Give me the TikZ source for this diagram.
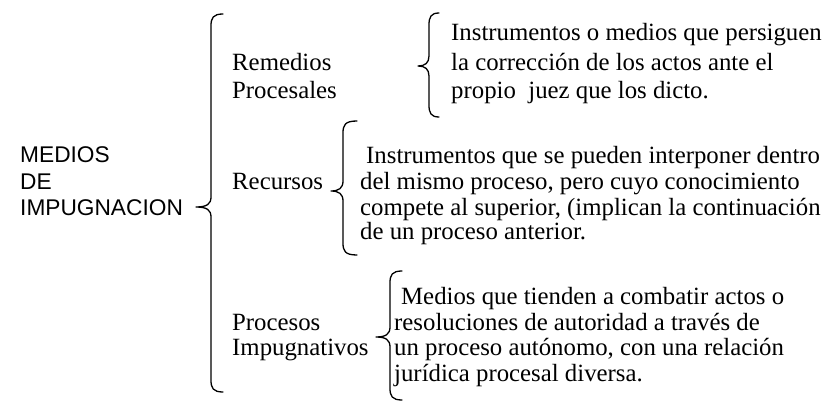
\documentclass[tikz,border=0pt]{standalone}
\usepackage{fontspec}
\setmainfont{Liberation Serif}
\newfontfamily\sansf{Liberation Sans}
\newcommand\lbrc[6]{% vx, top, bottom, tipx, tipy, hookx
  \draw[brc] (#6,#2) .. controls (#1+2,#2) and (#1,#2+4) .. (#1,#2+12)
    -- (#1,#5-10) .. controls (#1,#5-3) and (#1-4,#5) .. (#4,#5)
    .. controls (#1-4,#5) and (#1,#5+3) .. (#1,#5+10)
    -- (#1,#3-12) .. controls (#1,#3-4) and (#1+2,#3) .. (#6,#3);}
\begin{document}
\begin{tikzpicture}[x=1pt,y=-1pt,
  txt/.style={font=\fontsize{24.8}{28}\selectfont, inner sep=0, anchor=base west},
  stxt/.style={font=\sansf\fontsize{22.7}{26}\selectfont, inner sep=0, anchor=base west},
  brc/.style={line width=1.3pt, line cap=round, line join=round}]
\useasboundingbox[fill=white] (0,0) rectangle (831,401);
% root
\node[stxt] (m1) at (20,163) {MEDIOS};
\node[stxt] (m2) at (20,190) {DE};
\node[stxt] (m3) at (20,215) {IMPUGNACION};
% big brace
\lbrc{211}{14}{392}{196}{207}{223}
% branch labels
\node[txt] (r1) at (232,71) {Remedios};
\node[txt] (r2) at (232,99) {Procesales};
\node[txt] (c1) at (232,190) {Recursos};
\node[txt] (p1) at (232,330) {Procesos};
\node[txt] (p2) at (232,355) {Impugnativos};
% brace 1
\lbrc{429}{13}{117}{418}{66}{439}
\node[txt] (a1) at (451,41) {Instrumentos o medios que persiguen};
\node[txt] (a2) at (451,71) {la corrección de los actos ante el};
\node[txt] (a3) at (451,99) {propio\ \ juez que los dicto.};
% brace 2
\lbrc{343}{121}{255}{331}{191}{357}
\node[txt] (b1) at (366,164) {Instrumentos que se pueden interponer dentro};
\node[txt] (b2) at (360,190) {del mismo proceso, pero cuyo conocimiento};
\node[txt] (b3) at (360,215) {compete al superior, (implican la continuación};
\node[txt] (b4) at (360,240) {de un proceso anterior.};
% brace 3
\lbrc{390}{271}{400}{376}{337}{402}
\node[txt] (d1) at (401,304) {Medios que tienden a combatir actos o};
\node[txt] (d2) at (394,330) {resoluciones de autoridad a través de};
\node[txt] (d3) at (394,355) {un proceso autónomo, con una relación};
\node[txt] (d4) at (394,381) {jurídica procesal diversa.};
\end{tikzpicture}
\end{document}
